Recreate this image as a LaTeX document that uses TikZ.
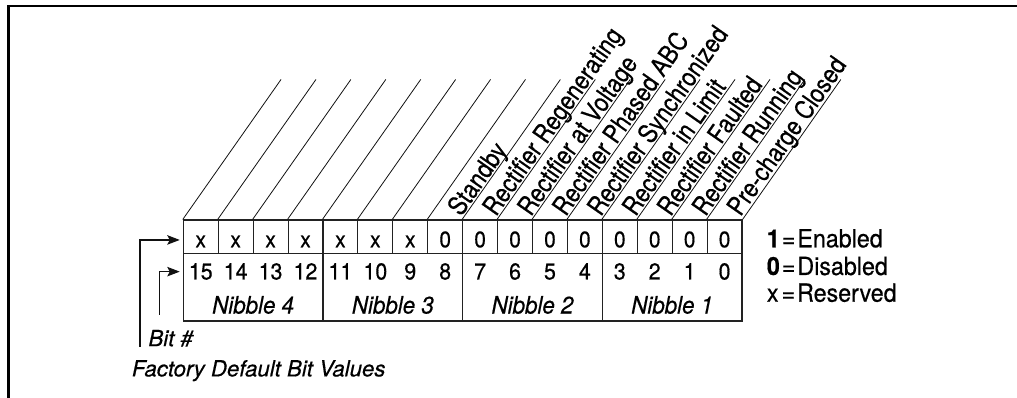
\documentclass[tikz,border=0pt]{standalone}
\usepackage{fontspec}
\setmainfont{TeX Gyre Heros}[FakeStretch=0.93,FakeBold=0.5]
\newfontfamily\capfont{TeX Gyre Heros}[FakeBold=0.5]
\newfontfamily\lblfont{TeX Gyre Heros}[FakeStretch=0.86,FakeBold=0.5]
\usepackage{xcolor}
\definecolor{ink}{HTML}{111111}
\definecolor{grid}{HTML}{222222}
\usepackage{tikz}
\usetikzlibrary{positioning,arrows.meta,calc}
\newcommand{\cw}{34.92}
\tikzset{
  >={Stealth[length=12.5pt,width=9.5pt,inset=2.5pt]},
  cellv/.style={draw=grid,line width=1.1pt,minimum width=34.92pt,minimum height=33.3pt,inner sep=0pt,
    text height=21.3pt,text depth=0pt,font=\fontsize{22.5}{26}\selectfont},
  nib/.style={draw=grid,line width=1.1pt,minimum width=139.68pt,minimum height=67.7pt,inner sep=0pt},
  bitn/.style={anchor=base,inner sep=0pt,font=\fontsize{23}{27}\selectfont},
  nibt/.style={anchor=base,inner sep=0pt,font=\fontsize{24}{28}\selectfont\itshape},
  lbl/.style={rotate=55,anchor=base west,inner sep=0pt,font=\fontsize{26}{30}\lblfont},
  note/.style={anchor=base west,inner sep=0pt,font=\fontsize{25}{29}\selectfont},
  captxt/.style={anchor=west,inner sep=0pt,font=\fontsize{22.2}{26}\capfont\itshape},
  diag/.style={draw=ink,line width=0.8pt},
  flow/.style={->,draw=ink,line width=1.2pt},
  frame/.style={draw=black,line width=2.8pt},
}
\begin{document}
\begin{tikzpicture}[x=1pt,y=1pt]
  \useasboundingbox (0,0) rectangle (1017,398);
  \draw[frame] (8.3,0) -- (8.3,392) -- (1020,392);
  % value row and diagonals
  \foreach \b/\v [count=\i from 0] in {15/x,14/x,13/x,12/x,11/x,10/x,9/x,8/0,7/0,6/0,5/0,4/0,3/0,2/0,1/0,0/0} {
    \node[cellv] (v\b) at ({183.3+(\i+0.5)*\cw},161.35) {\v};
    \node[bitn] (t\b) at ({183.3+(\i+0.5)*\cw},118.5) {\b};
    \draw[diag] (v\b.north west) -- ++(98.3,140);
  }
  \draw[diag] (v0.north east) -- ++(98.3,140);
  % nibbles
  \foreach \k in {1,...,4} {
    \node[nib] (n\k) at ({183.3+(18-4*\k)*\cw},110.85) {};
    \node[nibt] (nl\k) at ($(n\k.south)+(0,8)$) {Nibble \k};
  }
  % status names
  \foreach \b/\t in {8/Standby,7/Rectifier Regenerating,6/Rectifier at Voltage,5/Rectifier Phased ABC,
    4/Rectifier Synchronized,3/Rectifier in Limit,2/Rectifier Faulted,1/Rectifier Running,0/Pre-charge Closed}
    \node[lbl] (l\b) at ($(v\b.north east)+(55:0.5)+(145:3)$) {\t};
  % legend
  \node[note] (e1) at (766.7,150.7) {\textbf{1}\kern2pt=\kern2pt Enabled};
  \node[note] (e0) at (766.7,123) {\textbf{0}\kern2pt=\kern2pt Disabled};
  \node[note] (ex) at (766.7,96.3) {x\kern3pt=\kern2pt Reserved};
  % pointers
  \node[captxt] (bitl) at (148.3,59.7) {Bit \#};
  \node[captxt] (fdbl) at (131.7,27.3) {Factory Default Bit Values};
  \coordinate (fdb) at (140,51.3);
  \coordinate (bitc) at (159.3,83);
  \draw[flow] (fdb) |- ([xshift=-3pt,yshift=-3.3pt]v15.west);
  \draw[flow] (bitc) |- ([xshift=-3pt,yshift=15.5pt]n4.west);
\end{tikzpicture}
\end{document}
